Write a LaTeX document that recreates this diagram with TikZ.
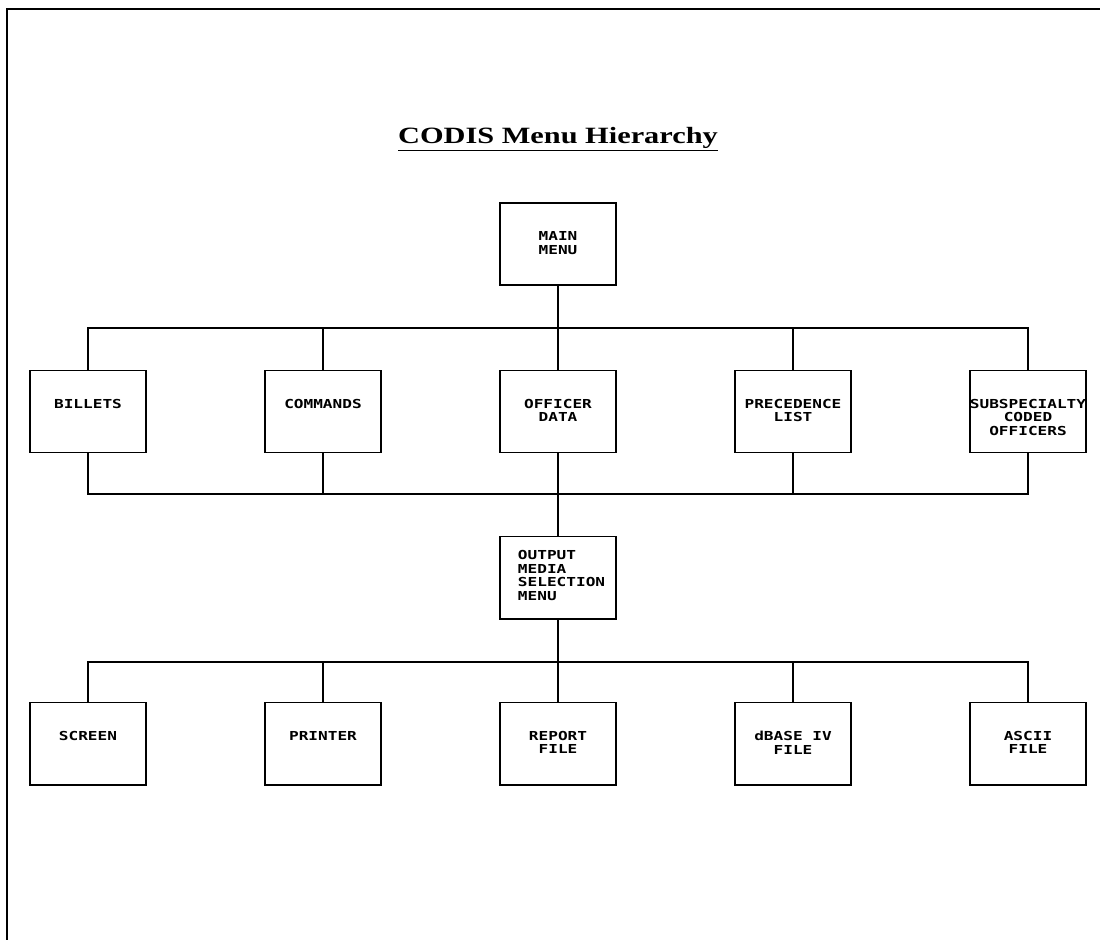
\documentclass[tikz,border=0pt]{standalone}
\usepackage{fontspec}
\usetikzlibrary{calc}
\newfontfamily\plotfont[FakeStretch=1.3]{DejaVu Sans Mono}
\newfontfamily\titlefont[FakeStretch=1.3]{Liberation Serif}
\def\boxw{2.9cm}
\def\boxh{2.05cm}
\def\menutext#1{\parbox[c][\boxh][t]{\boxw}{\centering\vspace*{0.72cm}#1}}
\tikzset{
  menubox/.style={draw, line width=1.4pt, inner sep=0pt,
    font=\plotfont\bfseries\fontsize{8.8pt}{9.6pt}\selectfont},
  wire/.style={line width=1.4pt},
}

\begin{document}
\begin{tikzpicture}[x=0.025cm, y=-0.025cm]
			%%%%% START %%%%%
			\useasboundingbox (0,0) rectangle (1100,940);
			
			\draw[line width=1.8pt] (7,940) -- (7,9) -- (1100,9);
			
			\node[anchor=base, font=\titlefont\bfseries\fontsize{16.6pt}{19pt}\selectfont] (title) at (558,143) {\underline{CODIS Menu Hierarchy}};
			
			\node[menubox] (main) at (558,244) {\menutext{MAIN\\MENU}};
			
			\node[menubox] (billets) at (88,411.5) {\menutext{BILLETS}};
			\node[menubox] (commands) at (323,411.5) {\menutext{COMMANDS}};
			\node[menubox] (officer) at (558,411.5) {\menutext{OFFICER\\DATA}};
			\node[menubox] (precedence) at (793,411.5) {\menutext{PRECEDENCE\\LIST}};
			\node[menubox] (subspec) at (1028,411.5) {\menutext{\makebox[\boxw]{SUBSPECIALTY}\\CODED\\OFFICERS}};
			
			\node[menubox] (outmenu) at (558,577.5) {\parbox[c][\boxh][t]{\boxw}{\raggedright\leftskip=0.45cm\vspace*{0.35cm}OUTPUT\\MEDIA\\SELECTION\\MENU}};
			
			\node[menubox] (screen) at (88,743.5) {\menutext{SCREEN}};
			\node[menubox] (printer) at (323,743.5) {\menutext{PRINTER}};
			\node[menubox] (report) at (558,743.5) {\menutext{REPORT\\FILE}};
			\node[menubox] (dbase) at (793,743.5) {\menutext{dBASE IV\\FILE}};
			\node[menubox] (ascii) at (1028,743.5) {\menutext{ASCII\\FILE}};
			
			\coordinate (topbus) at (558,328);
			\coordinate (midbus) at (558,494);
			\coordinate (lowbus) at (558,662);
			
			\draw[wire] (main.south) -- (topbus) -| (billets.north);
			\draw[wire] (topbus) -| (commands.north);
			\draw[wire] (topbus) -- (officer.north);
			\draw[wire] (topbus) -| (precedence.north);
			\draw[wire] (topbus) -| (subspec.north);
			
			\draw[wire] (billets.south) |- (midbus);
			\draw[wire] (commands.south) |- (midbus);
			\draw[wire] (officer.south) -- (midbus);
			\draw[wire] (precedence.south) |- (midbus);
			\draw[wire] (subspec.south) |- (midbus);
			\draw[wire] (midbus) -- (outmenu.north);
			
			\draw[wire] (outmenu.south) -- (lowbus) -| (screen.north);
			\draw[wire] (lowbus) -| (printer.north);
			\draw[wire] (lowbus) -- (report.north);
			\draw[wire] (lowbus) -| (dbase.north);
			\draw[wire] (lowbus) -| (ascii.north);
			
			%%%%% END %%%%%
\end{tikzpicture}
\end{document}
